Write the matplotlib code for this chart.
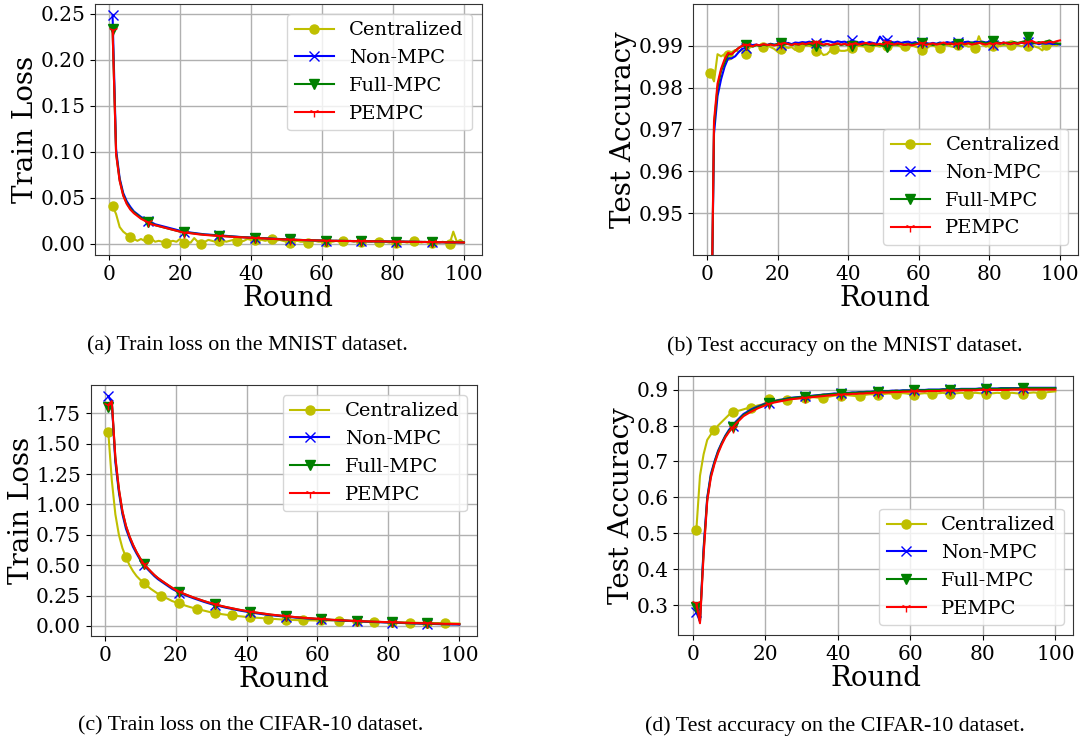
import numpy as np
import matplotlib
matplotlib.use("Agg")
import matplotlib.pyplot as plt

# rounds 1..100
rounds = list(range(1, 101))
labels = ["Centralized", "Non-MPC", "Full-MPC", "PEMPC"]

# (a) train loss, MNIST
mnist_loss_cent = [
    0.041, 0.032, 0.018, 0.013, 0.010, 0.007, 0.005, 0.003, 0.005, 0.003,
    0.005, 0.005, 0.002, 0.003, 0.002, 0.001, 0.002, 0.003, 0.002, 0.005,
    0.001, 0.002, 0.001, 0.006, 0.002, 0.000, 0.002, 0.004, 0.003, 0.002,
    0.003, 0.004, 0.002, 0.003, 0.004, 0.003, 0.002, 0.003, 0.005, 0.004,
    0.004, 0.005, 0.004, 0.003, 0.004, 0.005, 0.003, 0.004, 0.003, 0.002,
    0.001, 0.002, 0.003, 0.002, 0.002, 0.001, 0.002, 0.003, 0.002, 0.002,
    0.002, 0.003, 0.002, 0.003, 0.002, 0.003, 0.002, 0.003, 0.002, 0.003,
    0.002, 0.003, 0.002, 0.002, 0.003, 0.002, 0.002, 0.002, 0.001, 0.002,
    0.001, 0.002, 0.002, 0.001, 0.002, 0.003, 0.002, 0.001, 0.002, 0.001,
    0.001, 0.002, 0.001, 0.002, 0.001, 0.000, 0.013, 0.002, 0.004, 0.001]
mnist_loss_non = [
    0.248, 0.102, 0.071, 0.055, 0.046, 0.040, 0.035, 0.032, 0.029, 0.027,
    0.025, 0.023, 0.021, 0.020, 0.019, 0.018, 0.017, 0.016, 0.015, 0.014,
    0.013, 0.0125, 0.012, 0.0115, 0.011, 0.0105, 0.010, 0.0098, 0.0095, 0.0092,
    0.009, 0.0087, 0.0084, 0.0081, 0.0078, 0.0075, 0.0072, 0.007, 0.0068, 0.0066,
    0.0064, 0.0062, 0.006, 0.0058, 0.0056, 0.0054, 0.0052, 0.005, 0.0048, 0.0046,
    0.0044, 0.0042, 0.004, 0.0039, 0.0038, 0.0037, 0.0036, 0.0035, 0.0034, 0.0033,
    0.0032, 0.0031, 0.003, 0.003, 0.0029, 0.0029, 0.0028, 0.0028, 0.0027, 0.0027,
    0.0026, 0.0026, 0.0025, 0.0025, 0.0024, 0.0024, 0.0023, 0.0023, 0.0022, 0.0022,
    0.0021, 0.0021, 0.002, 0.002, 0.0019, 0.0019, 0.0018, 0.0018, 0.0017, 0.0017,
    0.0016, 0.0016, 0.0015, 0.0015, 0.0014, 0.0014, 0.0013, 0.0013, 0.0012, 0.0012]
mnist_loss_full = [
    0.233, 0.098, 0.069, 0.053, 0.044, 0.038, 0.034, 0.031, 0.028, 0.026,
    0.024, 0.022, 0.020, 0.019, 0.018, 0.017, 0.016, 0.015, 0.014, 0.013,
    0.0125, 0.012, 0.0115, 0.011, 0.0105, 0.010, 0.0097, 0.0094, 0.0091, 0.0088,
    0.0086, 0.0083, 0.008, 0.0078, 0.0075, 0.0073, 0.007, 0.0068, 0.0066, 0.0064,
    0.0062, 0.006, 0.0058, 0.0056, 0.0054, 0.0052, 0.005, 0.0048, 0.0047, 0.0046,
    0.0045, 0.0043, 0.0041, 0.004, 0.0038, 0.0037, 0.0036, 0.0035, 0.0034, 0.0033,
    0.0033, 0.0032, 0.0031, 0.003, 0.003, 0.0029, 0.0029, 0.0028, 0.0028, 0.0027,
    0.0027, 0.0026, 0.0026, 0.0025, 0.0025, 0.0024, 0.0024, 0.0023, 0.0023, 0.0022,
    0.0022, 0.0021, 0.0021, 0.002, 0.002, 0.0019, 0.0019, 0.0018, 0.0018, 0.0017,
    0.0017, 0.0016, 0.0016, 0.0015, 0.0015, 0.0014, 0.0014, 0.0013, 0.0013, 0.0012]
mnist_loss_pempc = [
    0.232, 0.097, 0.068, 0.052, 0.043, 0.037, 0.033, 0.030, 0.027, 0.025,
    0.023, 0.021, 0.020, 0.019, 0.018, 0.017, 0.016, 0.015, 0.014, 0.013,
    0.012, 0.0117, 0.0112, 0.0107, 0.0102, 0.0098, 0.0094, 0.0091, 0.0088, 0.0085,
    0.0083, 0.008, 0.0078, 0.0075, 0.0073, 0.0071, 0.0069, 0.0067, 0.0065, 0.0063,
    0.0061, 0.0059, 0.0057, 0.0055, 0.0053, 0.0051, 0.0049, 0.0047, 0.0045, 0.0044,
    0.0043, 0.0042, 0.004, 0.0039, 0.0038, 0.0037, 0.0036, 0.0035, 0.0034, 0.0033,
    0.0032, 0.0031, 0.003, 0.003, 0.0029, 0.0029, 0.0028, 0.0028, 0.0027, 0.0027,
    0.0026, 0.0026, 0.0025, 0.0025, 0.0024, 0.0024, 0.0023, 0.0023, 0.0022, 0.0022,
    0.0021, 0.0021, 0.002, 0.002, 0.0019, 0.0019, 0.0018, 0.0018, 0.0017, 0.0017,
    0.0016, 0.0016, 0.0015, 0.0015, 0.0014, 0.0014, 0.0013, 0.0013, 0.0012, 0.0012]

# (b) test accuracy, MNIST
mnist_acc_cent = [
    0.9835, 0.9815, 0.988, 0.9875, 0.988, 0.9877, 0.9885, 0.989, 0.9886, 0.989,
    0.988, 0.9895, 0.990, 0.9901, 0.990, 0.9898, 0.9902, 0.9897, 0.9893, 0.9886,
    0.9893, 0.9898, 0.9895, 0.9897, 0.989, 0.9897, 0.9895, 0.9901, 0.990, 0.9897,
    0.9888, 0.9887, 0.9878, 0.988, 0.9889, 0.9892, 0.989, 0.9888, 0.9888, 0.989,
    0.9895, 0.9898, 0.990, 0.9899, 0.9897, 0.9897, 0.9899, 0.990, 0.9898, 0.9902,
    0.990, 0.9899, 0.9902, 0.9901, 0.9898, 0.990, 0.9898, 0.9901, 0.9898, 0.9895,
    0.989, 0.9892, 0.9899, 0.9901, 0.9897, 0.9896, 0.990, 0.9902, 0.9899, 0.9897,
    0.9901, 0.9899, 0.9902, 0.9898, 0.9899, 0.9896, 0.9923, 0.9903, 0.9898, 0.9901,
    0.990, 0.9903, 0.9899, 0.9902, 0.9901, 0.9903, 0.990, 0.9902, 0.9899, 0.9901,
    0.990, 0.9902, 0.9898, 0.9895, 0.9889, 0.9902, 0.9899, 0.9903, 0.9901, 0.9905]
mnist_acc_non = [
    0.905, 0.969, 0.978, 0.982, 0.985, 0.987, 0.987, 0.9875, 0.9885, 0.9893,
    0.9895, 0.990, 0.9902, 0.9903, 0.990, 0.9903, 0.9902, 0.9905, 0.9903, 0.9902,
    0.9901, 0.9905, 0.9907, 0.9904, 0.9908, 0.9907, 0.9909, 0.9908, 0.991, 0.9908,
    0.9907, 0.991, 0.9909, 0.9912, 0.991, 0.9908, 0.9911, 0.9909, 0.991, 0.9907,
    0.9913, 0.991, 0.9908, 0.991, 0.9906, 0.9909, 0.9907, 0.9905, 0.9922, 0.9912,
    0.9915, 0.991, 0.9908, 0.991, 0.9907, 0.9909, 0.991, 0.9907, 0.9909, 0.9905,
    0.991, 0.9907, 0.9905, 0.9907, 0.9905, 0.9908, 0.9906, 0.9909, 0.9907, 0.991,
    0.9908, 0.9906, 0.9909, 0.991, 0.9907, 0.991, 0.9909, 0.991, 0.9908, 0.991,
    0.9903, 0.9907, 0.9905, 0.9908, 0.9906, 0.9904, 0.9907, 0.9905, 0.9907, 0.9906,
    0.9908, 0.9905, 0.9907, 0.9904, 0.9906, 0.9905, 0.9906, 0.9904, 0.9905, 0.9903]
mnist_acc_full = [
    0.905, 0.971, 0.980, 0.984, 0.986, 0.988, 0.988, 0.9888, 0.9895, 0.990,
    0.9903, 0.9902, 0.9898, 0.9902, 0.9900, 0.9903, 0.9901, 0.9904, 0.9902, 0.9905,
    0.9906, 0.9903, 0.9905, 0.9902, 0.9904, 0.9903, 0.9906, 0.9903, 0.9905, 0.9901,
    0.9900, 0.9903, 0.9901, 0.9904, 0.9902, 0.9903, 0.9905, 0.9902, 0.9904, 0.9901,
    0.9900, 0.9903, 0.9905, 0.9902, 0.9904, 0.9903, 0.9901, 0.9903, 0.9902, 0.9900,
    0.9898, 0.9902, 0.9904, 0.9903, 0.9905, 0.9902, 0.9904, 0.9903, 0.9906, 0.9904,
    0.9906, 0.9903, 0.9905, 0.9902, 0.9904, 0.9906, 0.9903, 0.9905, 0.9904, 0.9906,
    0.9905, 0.9907, 0.9904, 0.9906, 0.9908, 0.9905, 0.9907, 0.9909, 0.9906, 0.9908,
    0.9911, 0.9909, 0.9907, 0.9905, 0.9908, 0.9906, 0.9909, 0.9907, 0.9909, 0.9911,
    0.9921, 0.9908, 0.9906, 0.9909, 0.9907, 0.9910, 0.9913, 0.9908, 0.9906, 0.9905]
mnist_acc_pempc = [
    0.905, 0.972, 0.981, 0.9845, 0.9868, 0.9883, 0.988, 0.9888, 0.9895, 0.990,
    0.9903, 0.9901, 0.9899, 0.9903, 0.9901, 0.9904, 0.9902, 0.9903, 0.9901, 0.9903,
    0.9905, 0.9907, 0.9904, 0.9902, 0.9905, 0.9903, 0.9906, 0.9904, 0.9907, 0.9905,
    0.9910, 0.9906, 0.9903, 0.9905, 0.9902, 0.9904, 0.9906, 0.9903, 0.9905, 0.9902,
    0.9904, 0.9906, 0.9903, 0.9905, 0.9907, 0.9904, 0.9906, 0.9903, 0.9905, 0.9903,
    0.9908, 0.9905, 0.9903, 0.9906, 0.9904, 0.9902, 0.9904, 0.9901, 0.9903, 0.9905,
    0.9906, 0.9902, 0.9904, 0.9906, 0.9903, 0.9905, 0.9908, 0.9904, 0.9906, 0.9903,
    0.9905, 0.9907, 0.9904, 0.9906, 0.9903, 0.9905, 0.9907, 0.9905, 0.9903, 0.9906,
    0.9904, 0.9907, 0.9905, 0.9908, 0.9906, 0.9904, 0.9907, 0.9905, 0.9908, 0.9906,
    0.9909, 0.9912, 0.9908, 0.9906, 0.9909, 0.9907, 0.9910, 0.9908, 0.9911, 0.9913]

# (c) train loss, CIFAR-10
cifar_loss_cent = [
    1.60, 1.20, 0.92, 0.75, 0.64, 0.565, 0.50, 0.45, 0.41, 0.38,
    0.355, 0.33, 0.305, 0.285, 0.265, 0.25, 0.235, 0.22, 0.205, 0.195,
    0.185, 0.175, 0.165, 0.156, 0.148, 0.14, 0.133, 0.126, 0.119, 0.112,
    0.106, 0.101, 0.097, 0.093, 0.089, 0.086, 0.083, 0.080, 0.077, 0.074,
    0.071, 0.069, 0.067, 0.065, 0.063, 0.061, 0.059, 0.057, 0.055, 0.053,
    0.051, 0.050, 0.049, 0.048, 0.047, 0.047, 0.046, 0.046, 0.045, 0.045,
    0.045, 0.045, 0.045, 0.045, 0.045, 0.044, 0.043, 0.042, 0.041, 0.040,
    0.039, 0.038, 0.037, 0.036, 0.035, 0.034, 0.033, 0.032, 0.031, 0.030,
    0.030, 0.029, 0.028, 0.028, 0.027, 0.027, 0.026, 0.026, 0.025, 0.025,
    0.024, 0.024, 0.023, 0.023, 0.022, 0.022, 0.021, 0.021, 0.020, 0.020]
cifar_loss_non = [
    1.89, 1.84, 1.35, 1.10, 0.92, 0.80, 0.72, 0.65, 0.595, 0.545,
    0.50, 0.47, 0.44, 0.41, 0.385, 0.365, 0.345, 0.325, 0.305, 0.29,
    0.275, 0.262, 0.250, 0.239, 0.228, 0.218, 0.208, 0.198, 0.189, 0.180,
    0.172, 0.165, 0.158, 0.151, 0.145, 0.139, 0.133, 0.127, 0.122, 0.117,
    0.112, 0.107, 0.103, 0.099, 0.095, 0.091, 0.088, 0.085, 0.082, 0.079,
    0.076, 0.073, 0.071, 0.068, 0.066, 0.064, 0.062, 0.060, 0.058, 0.056,
    0.054, 0.052, 0.050, 0.048, 0.047, 0.045, 0.044, 0.042, 0.041, 0.040,
    0.038, 0.037, 0.036, 0.034, 0.033, 0.032, 0.031, 0.030, 0.029, 0.028,
    0.027, 0.026, 0.025, 0.024, 0.023, 0.022, 0.021, 0.020, 0.019, 0.018,
    0.017, 0.016, 0.016, 0.015, 0.014, 0.014, 0.013, 0.012, 0.012, 0.011]
cifar_loss_full = [
    1.80, 1.85, 1.38, 1.12, 0.94, 0.82, 0.735, 0.665, 0.605, 0.555,
    0.51, 0.478, 0.447, 0.418, 0.393, 0.372, 0.352, 0.332, 0.313, 0.297,
    0.282, 0.268, 0.256, 0.245, 0.234, 0.224, 0.214, 0.204, 0.195, 0.186,
    0.178, 0.170, 0.163, 0.156, 0.150, 0.144, 0.138, 0.132, 0.127, 0.122,
    0.117, 0.112, 0.108, 0.104, 0.100, 0.096, 0.092, 0.089, 0.086, 0.083,
    0.080, 0.077, 0.074, 0.071, 0.069, 0.066, 0.064, 0.062, 0.060, 0.058,
    0.056, 0.054, 0.052, 0.050, 0.049, 0.047, 0.046, 0.044, 0.043, 0.041,
    0.040, 0.039, 0.037, 0.036, 0.035, 0.034, 0.033, 0.032, 0.031, 0.030,
    0.029, 0.028, 0.027, 0.026, 0.025, 0.024, 0.023, 0.022, 0.021, 0.021,
    0.020, 0.019, 0.018, 0.018, 0.017, 0.016, 0.016, 0.015, 0.015, 0.014]
cifar_loss_pempc = [
    1.82, 1.85, 1.39, 1.13, 0.945, 0.825, 0.738, 0.668, 0.608, 0.557,
    0.512, 0.48, 0.449, 0.42, 0.395, 0.374, 0.354, 0.334, 0.315, 0.298,
    0.283, 0.269, 0.257, 0.246, 0.235, 0.225, 0.215, 0.205, 0.196, 0.187,
    0.179, 0.171, 0.164, 0.157, 0.151, 0.145, 0.139, 0.133, 0.128, 0.123,
    0.118, 0.113, 0.109, 0.105, 0.101, 0.097, 0.093, 0.090, 0.087, 0.084,
    0.081, 0.078, 0.075, 0.072, 0.070, 0.067, 0.065, 0.063, 0.061, 0.059,
    0.057, 0.055, 0.053, 0.051, 0.049, 0.048, 0.046, 0.045, 0.043, 0.042,
    0.041, 0.039, 0.038, 0.037, 0.036, 0.035, 0.034, 0.033, 0.032, 0.031,
    0.030, 0.029, 0.028, 0.027, 0.026, 0.025, 0.024, 0.023, 0.022, 0.022,
    0.021, 0.020, 0.019, 0.019, 0.018, 0.017, 0.017, 0.016, 0.016, 0.015]

# (d) test accuracy, CIFAR-10
cifar_acc_cent = [
    0.51, 0.66, 0.72, 0.76, 0.775, 0.787, 0.80, 0.81, 0.82, 0.83,
    0.838, 0.84, 0.842, 0.845, 0.848, 0.85, 0.853, 0.856, 0.858, 0.862,
    0.873, 0.868, 0.87, 0.872, 0.871, 0.872, 0.873, 0.875, 0.876, 0.877,
    0.876, 0.878, 0.879, 0.878, 0.877, 0.877, 0.879, 0.881, 0.883, 0.884,
    0.883, 0.885, 0.884, 0.883, 0.882, 0.882, 0.884, 0.886, 0.887, 0.886,
    0.885, 0.887, 0.888, 0.889, 0.888, 0.887, 0.889, 0.890, 0.889, 0.887,
    0.884, 0.887, 0.889, 0.890, 0.889, 0.888, 0.889, 0.890, 0.891, 0.889,
    0.887, 0.889, 0.890, 0.891, 0.890, 0.889, 0.890, 0.891, 0.890, 0.889,
    0.888, 0.889, 0.890, 0.891, 0.890, 0.889, 0.890, 0.891, 0.890, 0.889,
    0.888, 0.890, 0.891, 0.892, 0.891, 0.889, 0.891, 0.893, 0.894, 0.895]
cifar_acc_non = [
    0.28, 0.255, 0.46, 0.60, 0.665, 0.70, 0.73, 0.752, 0.772, 0.788,
    0.80, 0.812, 0.822, 0.832, 0.838, 0.844, 0.849, 0.853, 0.857, 0.861,
    0.864, 0.867, 0.869, 0.871, 0.873, 0.875, 0.877, 0.878, 0.879, 0.880,
    0.881, 0.882, 0.883, 0.884, 0.885, 0.886, 0.887, 0.888, 0.889, 0.889,
    0.890, 0.891, 0.891, 0.892, 0.892, 0.893, 0.893, 0.894, 0.894, 0.895,
    0.895, 0.896, 0.896, 0.896, 0.897, 0.897, 0.897, 0.898, 0.898, 0.898,
    0.899, 0.899, 0.899, 0.899, 0.900, 0.900, 0.900, 0.900, 0.901, 0.901,
    0.901, 0.901, 0.901, 0.902, 0.902, 0.902, 0.902, 0.902, 0.903, 0.903,
    0.903, 0.903, 0.903, 0.903, 0.904, 0.904, 0.904, 0.904, 0.904, 0.904,
    0.905, 0.905, 0.905, 0.905, 0.905, 0.905, 0.905, 0.905, 0.905, 0.905]
cifar_acc_full = [
    0.295, 0.255, 0.45, 0.595, 0.66, 0.697, 0.727, 0.75, 0.77, 0.785,
    0.797, 0.809, 0.819, 0.829, 0.835, 0.841, 0.846, 0.851, 0.855, 0.859,
    0.863, 0.866, 0.868, 0.870, 0.872, 0.874, 0.876, 0.877, 0.878, 0.879,
    0.880, 0.881, 0.882, 0.883, 0.884, 0.885, 0.886, 0.887, 0.888, 0.888,
    0.889, 0.890, 0.890, 0.891, 0.891, 0.892, 0.892, 0.893, 0.893, 0.894,
    0.894, 0.895, 0.895, 0.895, 0.896, 0.896, 0.896, 0.897, 0.897, 0.897,
    0.898, 0.898, 0.898, 0.898, 0.899, 0.899, 0.899, 0.899, 0.900, 0.900,
    0.900, 0.900, 0.900, 0.901, 0.901, 0.901, 0.901, 0.901, 0.902, 0.902,
    0.902, 0.902, 0.902, 0.902, 0.903, 0.903, 0.903, 0.903, 0.903, 0.903,
    0.904, 0.904, 0.904, 0.904, 0.904, 0.904, 0.904, 0.904, 0.904, 0.904]
cifar_acc_pempc = [
    0.305, 0.25, 0.44, 0.59, 0.655, 0.693, 0.723, 0.747, 0.767, 0.782,
    0.794, 0.806, 0.816, 0.826, 0.832, 0.838, 0.843, 0.848, 0.852, 0.856,
    0.860, 0.863, 0.865, 0.867, 0.869, 0.871, 0.873, 0.874, 0.875, 0.876,
    0.877, 0.878, 0.879, 0.880, 0.881, 0.882, 0.883, 0.884, 0.885, 0.886,
    0.886, 0.887, 0.887, 0.888, 0.888, 0.889, 0.889, 0.890, 0.890, 0.891,
    0.891, 0.892, 0.892, 0.892, 0.893, 0.893, 0.893, 0.894, 0.894, 0.894,
    0.895, 0.895, 0.895, 0.895, 0.896, 0.896, 0.896, 0.896, 0.897, 0.897,
    0.897, 0.897, 0.897, 0.898, 0.898, 0.898, 0.898, 0.898, 0.899, 0.899,
    0.899, 0.899, 0.899, 0.899, 0.899, 0.899, 0.899, 0.900, 0.900, 0.900,
    0.900, 0.900, 0.900, 0.900, 0.900, 0.900, 0.900, 0.900, 0.900, 0.900]

captions = ["(a) Train loss on the MNIST dataset.",
            "(b) Test accuracy on the MNIST dataset.",
            "(c) Train loss on the CIFAR-10 dataset.",
            "(d) Test accuracy on the CIFAR-10 dataset."]

yticks_a = [0.00, 0.05, 0.10, 0.15, 0.20, 0.25]
yticks_b = [0.95, 0.96, 0.97, 0.98, 0.99]
yticks_c = [0.00, 0.25, 0.50, 0.75, 1.00, 1.25, 1.50, 1.75]
yticks_d = [0.3, 0.4, 0.5, 0.6, 0.7, 0.8, 0.9]

plt.rcParams['font.family'] = 'DejaVu Serif'

W, H = 1085, 742
fig = plt.figure(figsize=(W / 100, H / 100), dpi=100)


def px_axes(left, top, right, bottom):
    return fig.add_axes([left / W, 1 - bottom / H, (right - left) / W, (bottom - top) / H])


styles = [dict(color='y', marker='o', markevery=5, markersize=6.5),
          dict(color='b', marker='x', markevery=10, markersize=6.5),
          dict(color='g', marker='v', markevery=10, markersize=6.5),
          dict(color='r', marker='1', markevery=10, markersize=6.5)]


def draw(ax, series, ylabel, legend_loc, yticks, fmt):
    for s, lab, st in zip(series, labels, styles):
        ax.plot(rounds, s, label=lab, linewidth=1.5, **st)
    ax.grid(True, linewidth=1.0, color='#b0b0b0')
    ax.set_xlabel("Round", fontsize=20, labelpad=1)
    ax.set_ylabel(ylabel, fontsize=20, labelpad=1)
    ax.set_xticks([0, 20, 40, 60, 80, 100])
    ax.set_yticks(yticks)
    ax.set_yticklabels([fmt.format(t) for t in yticks])
    ax.tick_params(labelsize=14.5)
    ax.legend(loc=legend_loc, fontsize=14)
    for sp in ax.spines.values():
        sp.set_color('#333333')


ax_a = px_axes(95, 4, 481.5, 255)
draw(ax_a, [mnist_loss_cent, mnist_loss_non, mnist_loss_full, mnist_loss_pempc],
     "Train Loss", 'upper right', yticks_a, "{:.2f}")

ax_b = px_axes(693, 4, 1077.5, 255)
draw(ax_b, [mnist_acc_cent, mnist_acc_non, mnist_acc_full, mnist_acc_pempc],
     "Test Accuracy", 'lower right', yticks_b, "{:.2f}")
ax_b.set_ylim(0.94, 1.0)

ax_c = px_axes(90.7, 385, 476.9, 636)
draw(ax_c, [cifar_loss_cent, cifar_loss_non, cifar_loss_full, cifar_loss_pempc],
     "Train Loss", 'upper right', yticks_c, "{:.2f}")

ax_d = px_axes(678.4, 376, 1073.3, 635)
draw(ax_d, [cifar_acc_cent, cifar_acc_non, cifar_acc_full, cifar_acc_pempc],
     "Test Accuracy", 'lower right', yticks_d, "{:.1f}")

cap_pos = [(247, 346), (845, 346), (251, 726), (835, 726)]
for (cx, cy), txt in zip(cap_pos, captions):
    fig.text(cx / W, 1 - cy / H, txt, ha='center', va='center',
             fontsize=15.8, family='Liberation Serif')

fig.savefig("out.png", dpi=100)
